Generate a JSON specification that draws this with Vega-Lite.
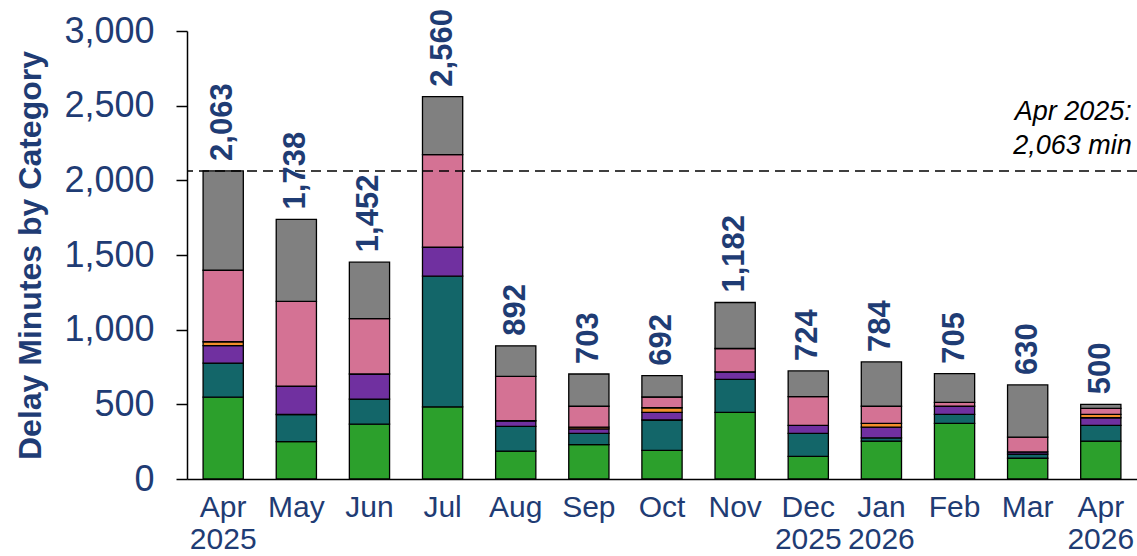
{
  "$schema": "https://vega.github.io/schema/vega-lite/v6.json",
  "width": 950,
  "height": 448,
  "autosize": "none",
  "padding": {"left": 187, "top": 31, "right": 0, "bottom": 77},
  "background": "white",
  "config": {
    "view": {"stroke": null},
    "font": "Liberation Sans, Arial, sans-serif"
  },
  "datasets": {
    "bars": [
      {"month": "Apr|2025", "cat": "Cat A", "value": 548},
      {"month": "Apr|2025", "cat": "Cat B", "value": 228},
      {"month": "Apr|2025", "cat": "Cat C", "value": 117},
      {"month": "Apr|2025", "cat": "Cat D", "value": 26},
      {"month": "Apr|2025", "cat": "Cat E", "value": 479},
      {"month": "Apr|2025", "cat": "Cat F", "value": 665},
      {"month": "May", "cat": "Cat A", "value": 250},
      {"month": "May", "cat": "Cat B", "value": 182},
      {"month": "May", "cat": "Cat C", "value": 190},
      {"month": "May", "cat": "Cat D", "value": 0},
      {"month": "May", "cat": "Cat E", "value": 568},
      {"month": "May", "cat": "Cat F", "value": 548},
      {"month": "Jun", "cat": "Cat A", "value": 367},
      {"month": "Jun", "cat": "Cat B", "value": 168},
      {"month": "Jun", "cat": "Cat C", "value": 168},
      {"month": "Jun", "cat": "Cat D", "value": 0},
      {"month": "Jun", "cat": "Cat E", "value": 371},
      {"month": "Jun", "cat": "Cat F", "value": 378},
      {"month": "Jul", "cat": "Cat A", "value": 483},
      {"month": "Jul", "cat": "Cat B", "value": 875},
      {"month": "Jul", "cat": "Cat C", "value": 194},
      {"month": "Jul", "cat": "Cat D", "value": 0},
      {"month": "Jul", "cat": "Cat E", "value": 620},
      {"month": "Jul", "cat": "Cat F", "value": 388},
      {"month": "Aug", "cat": "Cat A", "value": 187},
      {"month": "Aug", "cat": "Cat B", "value": 166},
      {"month": "Aug", "cat": "Cat C", "value": 37},
      {"month": "Aug", "cat": "Cat D", "value": 0},
      {"month": "Aug", "cat": "Cat E", "value": 297},
      {"month": "Aug", "cat": "Cat F", "value": 205},
      {"month": "Sep", "cat": "Cat A", "value": 230},
      {"month": "Sep", "cat": "Cat B", "value": 76},
      {"month": "Sep", "cat": "Cat C", "value": 29},
      {"month": "Sep", "cat": "Cat D", "value": 13},
      {"month": "Sep", "cat": "Cat E", "value": 139},
      {"month": "Sep", "cat": "Cat F", "value": 216},
      {"month": "Oct", "cat": "Cat A", "value": 192},
      {"month": "Oct", "cat": "Cat B", "value": 203},
      {"month": "Oct", "cat": "Cat C", "value": 51},
      {"month": "Oct", "cat": "Cat D", "value": 31},
      {"month": "Oct", "cat": "Cat E", "value": 72},
      {"month": "Oct", "cat": "Cat F", "value": 143},
      {"month": "Nov", "cat": "Cat A", "value": 446},
      {"month": "Nov", "cat": "Cat B", "value": 221},
      {"month": "Nov", "cat": "Cat C", "value": 51},
      {"month": "Nov", "cat": "Cat D", "value": 0},
      {"month": "Nov", "cat": "Cat E", "value": 156},
      {"month": "Nov", "cat": "Cat F", "value": 308},
      {"month": "Dec|2025", "cat": "Cat A", "value": 152},
      {"month": "Dec|2025", "cat": "Cat B", "value": 154},
      {"month": "Dec|2025", "cat": "Cat C", "value": 53},
      {"month": "Dec|2025", "cat": "Cat D", "value": 0},
      {"month": "Dec|2025", "cat": "Cat E", "value": 192},
      {"month": "Dec|2025", "cat": "Cat F", "value": 173},
      {"month": "Jan|2026", "cat": "Cat A", "value": 254},
      {"month": "Jan|2026", "cat": "Cat B", "value": 22},
      {"month": "Jan|2026", "cat": "Cat C", "value": 72},
      {"month": "Jan|2026", "cat": "Cat D", "value": 25},
      {"month": "Jan|2026", "cat": "Cat E", "value": 114},
      {"month": "Jan|2026", "cat": "Cat F", "value": 297},
      {"month": "Feb", "cat": "Cat A", "value": 373},
      {"month": "Feb", "cat": "Cat B", "value": 60},
      {"month": "Feb", "cat": "Cat C", "value": 54},
      {"month": "Feb", "cat": "Cat D", "value": 0},
      {"month": "Feb", "cat": "Cat E", "value": 26},
      {"month": "Feb", "cat": "Cat F", "value": 192},
      {"month": "Mar", "cat": "Cat A", "value": 139},
      {"month": "Mar", "cat": "Cat B", "value": 28},
      {"month": "Mar", "cat": "Cat C", "value": 14},
      {"month": "Mar", "cat": "Cat D", "value": 0},
      {"month": "Mar", "cat": "Cat E", "value": 100},
      {"month": "Mar", "cat": "Cat F", "value": 349},
      {"month": "Apr|2026", "cat": "Cat A", "value": 254},
      {"month": "Apr|2026", "cat": "Cat B", "value": 105},
      {"month": "Apr|2026", "cat": "Cat C", "value": 51},
      {"month": "Apr|2026", "cat": "Cat D", "value": 23},
      {"month": "Apr|2026", "cat": "Cat E", "value": 40},
      {"month": "Apr|2026", "cat": "Cat F", "value": 27}
    ],
    "totals": [
      {"month": "Apr|2025", "total": 2063},
      {"month": "May", "total": 1738},
      {"month": "Jun", "total": 1452},
      {"month": "Jul", "total": 2560},
      {"month": "Aug", "total": 892},
      {"month": "Sep", "total": 703},
      {"month": "Oct", "total": 692},
      {"month": "Nov", "total": 1182},
      {"month": "Dec|2025", "total": 724},
      {"month": "Jan|2026", "total": 784},
      {"month": "Feb", "total": 705},
      {"month": "Mar", "total": 630},
      {"month": "Apr|2026", "total": 500}
    ],
    "ref": [
      {"month": "Apr|2026", "ref": 2063, "note": "Apr 2025:\n2,063 min"}
    ]
  },
  "encoding": {
    "x": {
      "field": "month",
      "type": "nominal",
      "sort": ["Apr|2025", "May", "Jun", "Jul", "Aug", "Sep", "Oct", "Nov", "Dec|2025", "Jan|2026", "Feb", "Mar", "Apr|2026"],
      "scale": {"paddingInner": 0.45, "paddingOuter": 0.22},
      "axis": {
        "title": null,
        "labelAngle": 0,
        "labelExpr": "split(datum.label, '|')",
        "labelFontSize": 30,
        "labelColor": "#1f3c74",
        "labelPadding": 13,
        "labelLineHeight": 32,
        "ticks": false,
        "domainColor": "#000000",
        "domainWidth": 1.5,
        "labelBaseline": "top"
      }
    }
  },
  "layer": [
    {
      "data": {"name": "bars"},
      "mark": {"type": "bar", "stroke": "#000000", "strokeWidth": 1.3},
      "encoding": {
        "y": {
          "aggregate": "sum",
          "field": "value",
          "type": "quantitative",
          "scale": {"domain": [0, 3000], "nice": false},
          "axis": {
            "title": "Delay Minutes by Category",
            "titleFontSize": 32,
            "titleFontWeight": "bold",
            "titleColor": "#1f3c74",
            "titlePadding": 16,
            "values": [0, 500, 1000, 1500, 2000, 2500, 3000],
            "format": ",d",
            "labelFontSize": 36,
            "labelColor": "#1f3c74",
            "labelPadding": 22,
            "grid": false,
            "domainColor": "#000000",
            "domainWidth": 1.5,
            "tickColor": "#000000",
            "tickSize": 11,
            "tickWidth": 1.5
          }
        },
        "color": {
          "field": "cat",
          "type": "nominal",
          "sort": ["Cat A", "Cat B", "Cat C", "Cat D", "Cat E", "Cat F"],
          "scale": {
            "domain": ["Cat A", "Cat B", "Cat C", "Cat D", "Cat E", "Cat F"],
            "range": ["#2ca02c", "#136669", "#7030a0", "#f28e2b", "#d47294", "#808080"]
          },
          "legend": null
        },
        "order": {"field": "cat", "sort": "ascending"}
      }
    },
    {
      "data": {"name": "ref"},
      "mark": {"type": "rule", "strokeDash": [10, 6], "strokeWidth": 1.5, "color": "#000000"},
      "encoding": {
        "x": null,
        "y": {"field": "ref", "type": "quantitative"}
      }
    },
    {
      "data": {"name": "totals"},
      "mark": {"type": "text", "angle": 270, "align": "left", "baseline": "middle", "dx": 10, "fontSize": 31, "fontWeight": "bold", "color": "#1f3c74"},
      "encoding": {
        "y": {"field": "total", "type": "quantitative"},
        "text": {"field": "total", "type": "quantitative", "format": ","}
      }
    },
    {
      "data": {"name": "ref"},
      "mark": {"type": "text", "align": "right", "baseline": "bottom", "dx": 31, "dy": -45, "fontSize": 27, "fontStyle": "italic", "color": "#000000", "lineBreak": "\n", "lineHeight": 34},
      "encoding": {
        "y": {"field": "ref", "type": "quantitative"},
        "text": {"field": "note", "type": "nominal"}
      }
    }
  ]
}
